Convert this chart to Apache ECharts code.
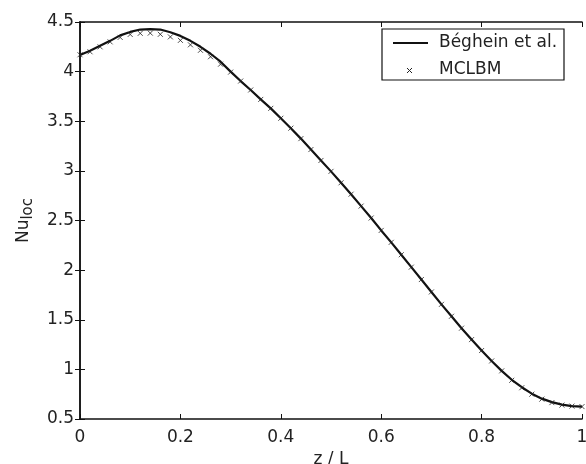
<!DOCTYPE html>
<html>
<head>
<meta charset="utf-8">
<script src="https://cdn.jsdelivr.net/npm/echarts@6/dist/echarts.min.js"></script>
<style>html,body{margin:0;padding:0;background:#fff;}#c{width:586px;height:464px;}</style>
</head>
<body>
<div id="c"></div>
<script>
const zValues = [0.00,0.02,0.04,0.06,0.08,0.10,0.12,0.14,0.16,0.18,0.20,0.22,0.24,0.26,0.28,0.30,0.32,0.34,0.36,0.38,0.40,0.42,0.44,0.46,0.48,0.50,0.52,0.54,0.56,0.58,0.60,0.62,0.64,0.66,0.68,0.70,0.72,0.74,0.76,0.78,0.80,0.82,0.84,0.86,0.88,0.90,0.92,0.94,0.96,0.98,1.00];
const beghein = [4.167,4.21,4.26,4.31,4.365,4.40,4.424,4.428,4.424,4.397,4.36,4.31,4.25,4.18,4.10,4.00,3.905,3.815,3.72,3.63,3.53,3.43,3.325,3.215,3.105,2.995,2.88,2.765,2.645,2.525,2.40,2.28,2.155,2.03,1.905,1.78,1.655,1.535,1.415,1.30,1.19,1.085,0.985,0.895,0.82,0.755,0.705,0.67,0.645,0.63,0.625];
const mclbm = [4.17,4.20,4.25,4.30,4.345,4.375,4.386,4.388,4.376,4.35,4.315,4.27,4.215,4.15,4.075,3.995,3.905,3.815,3.72,3.63,3.53,3.43,3.325,3.215,3.105,2.995,2.88,2.765,2.645,2.525,2.40,2.28,2.155,2.03,1.905,1.78,1.655,1.535,1.415,1.30,1.19,1.085,0.985,0.89,0.815,0.75,0.70,0.665,0.64,0.63,0.625];
const xTicks = ['0','0.2','0.4','0.6','0.8','1'];
const yTicks = ['0.5','1','1.5','2','2.5','3','3.5','4','4.5'];
const seriesNames = ['Béghein et al.','MCLBM'];

const FONT = 'DejaVu Sans';
const TXT = '#222';
const chart = echarts.init(document.getElementById('c'), null, {renderer:'canvas'});
const axisLine = {show:true, lineStyle:{color:'#111', width:1.5}};
const tick = {show:true, inside:true, length:5, lineStyle:{color:'#111', width:1}};
const xs = {type:'value', min:0, max:1, interval:0.2};
const ys = {type:'value', min:0.5, max:4.5, interval:0.5};
const XPATH = 'path://M0,0L10,10M0,10L10,0';
chart.setOption({
  animation:false,
  backgroundColor:'#fff',
  grid:{left:80, right:4, top:22, bottom:45, containLabel:false, outerBoundsMode:'none'},
  legend:{show:false},
  graphic:[
    {type:'rect', shape:{x:382, y:29, width:182, height:51}, style:{fill:'#fff', stroke:'#111', lineWidth:1.2}, z:100},
    {type:'line', shape:{x1:393, y1:43, x2:428, y2:43}, style:{stroke:'#111', lineWidth:2.2}, z:101},
    {type:'line', shape:{x1:407, y1:68, x2:412, y2:73}, style:{stroke:'#222', lineWidth:1}, z:101},
    {type:'line', shape:{x1:407, y1:73, x2:412, y2:68}, style:{stroke:'#222', lineWidth:1}, z:101},
    {type:'text', x:439, y:43, style:{text:seriesNames[0], font:'17px "DejaVu Sans"', fill:TXT, verticalAlign:'middle', align:'left'}, z:101},
    {type:'text', x:439, y:70, style:{text:seriesNames[1], font:'17px "DejaVu Sans"', fill:TXT, verticalAlign:'middle', align:'left'}, z:101}
  ],
  xAxis:[
    Object.assign({}, xs, {position:'bottom', axisLine, axisTick:tick,
      axisLabel:{fontFamily:FONT, fontSize:17, color:TXT, margin:10, formatter:(v)=>{const i=Math.round(v/0.2);return xTicks[i]!==undefined?xTicks[i]:'';}},
      splitLine:{show:false},
      name:'z / L', nameLocation:'middle', nameGap:26, nameTextStyle:{fontFamily:FONT, fontSize:17, color:TXT}}),
    Object.assign({}, xs, {position:'top', axisLine, axisTick:tick, axisLabel:{show:false}, splitLine:{show:false}})
  ],
  yAxis:[
    Object.assign({}, ys, {position:'left', axisLine, axisTick:tick,
      axisLabel:{fontFamily:FONT, fontSize:17, color:TXT, margin:6, formatter:(v)=>{const i=Math.round((v-0.5)/0.5);return yTicks[i]!==undefined?yTicks[i]:'';}},
      splitLine:{show:false},
      name:'{a|Nu}{b|loc}', nameLocation:'middle', nameGap:42, nameRotate:90,
      nameTextStyle:{fontFamily:FONT, fontSize:17, color:TXT,
        rich:{a:{fontFamily:FONT, fontSize:17, color:TXT}, b:{fontFamily:FONT, fontSize:15, color:TXT, padding:[9,0,0,0]}}}}),
    Object.assign({}, ys, {position:'right', axisLine, axisTick:tick, axisLabel:{show:false}, splitLine:{show:false}})
  ],
  series:[
    {name:seriesNames[0], type:'line', xAxisIndex:0, yAxisIndex:0,
     data:zValues.map((z,i)=>[z, beghein[i]]), showSymbol:false, symbol:'none',
     lineStyle:{color:'#111', width:2.2}, itemStyle:{color:'#111'}, z:2},
    {name:seriesNames[1], type:'scatter', xAxisIndex:0, yAxisIndex:0,
     data:zValues.map((z,i)=>[z, mclbm[i]]),
     symbol:XPATH, symbolSize:5,
     itemStyle:{color:'rgba(0,0,0,0)', borderColor:'#222', borderWidth:1}, z:3}
  ]
});
</script>
</body>
</html>
